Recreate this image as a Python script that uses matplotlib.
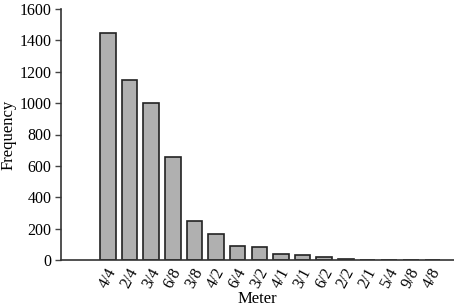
import matplotlib
matplotlib.use("Agg")
import matplotlib.pyplot as plt
import numpy as np

meters = ["4/4", "2/4", "3/4", "6/8", "3/8", "4/2", "6/4", "3/2",
          "4/1", "3/1", "6/2", "2/2", "2/1", "5/4", "9/8", "4/8"]
frequency = [1450, 1148, 1003, 656, 250, 165, 87, 86,
             37, 30, 20, 8, 3, 2, 1, 1]
y_ticks = [0, 200, 400, 600, 800, 1000, 1200, 1400, 1600]

plt.rcParams['font.family'] = ['Liberation Serif', 'DejaVu Serif']

fig = plt.figure(figsize=(4.54, 3.07), dpi=100)
ax = fig.add_axes([61/454, 47/307, 1 - 61/454, (260-9)/307])

x = np.arange(len(meters))
ax.bar(x, frequency, width=0.72, color='#b0b0b0', edgecolor='#222222', linewidth=1.2)

ax.set_xlim(-2.17, 16.0)
ax.set_ylim(0, 1600)
ax.set_yticks(y_ticks)
ax.set_xticks(x)
ax.set_xticklabels(meters, rotation=62, ha='center', fontsize=11.5)
ax.tick_params(axis='x', length=0, pad=4)
ax.tick_params(axis='y', length=4, width=1, color='#444444', direction='out', pad=3, labelsize=11.5)

for s in ['top', 'right']:
    ax.spines[s].set_visible(False)
for s in ['left', 'bottom']:
    ax.spines[s].set_color('#333333')
    ax.spines[s].set_linewidth(1.2)

ax.set_ylabel('Frequency', fontsize=12)
ax.set_xlabel('Meter', fontsize=12)
ax.yaxis.set_label_coords(-0.113, 0.5)
ax.xaxis.set_label_coords(0.5, -0.125)

fig.savefig('out.png', dpi=100)
